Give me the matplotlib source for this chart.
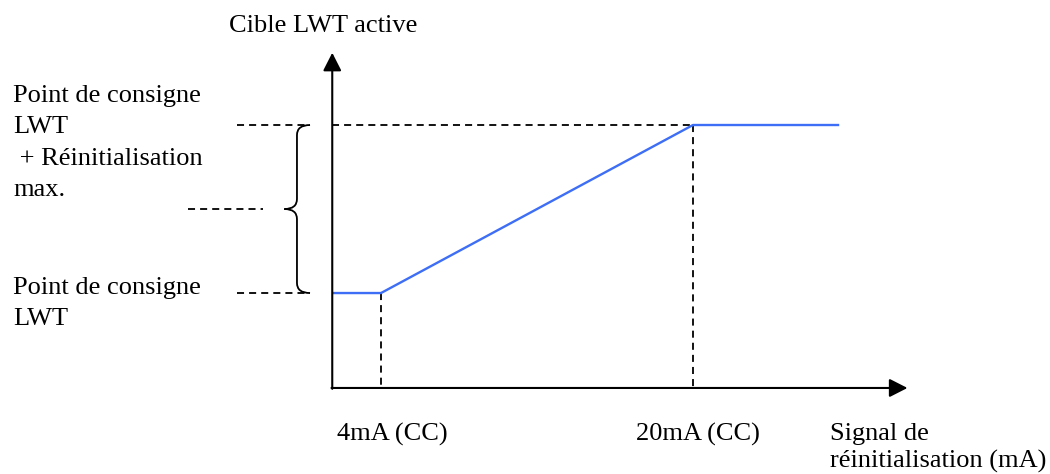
import matplotlib.pyplot as plt
from matplotlib.path import Path
from matplotlib.patches import PathPatch

plt.rcParams["font.family"] = ["Liberation Serif", "DejaVu Serif"]

# schematic: target LWT vs reset signal (mA)
signal_ma = [1.5, 4, 20, 27.5]
lwt_target = [0, 0, 1, 1]  # 0 = LWT setpoint, 1 = setpoint + max reset
ticks_ma = [4, 20]
tick_labels = ["4mA (CC)", "20mA (CC)"]
y_title = "Cible LWT active"
x_title = "Signal de\nréinitialisation (mA)"
lbl_high = "Point de consigne\nLWT\n + Réinitialisation\nmax."
lbl_low = "Point de consigne\nLWT"

x0, x_end = 1.5, 31.0      # axis origin / arrow tip (mA)
y0, y_end = -0.565, 1.43   # axis origin / arrow tip

fig = plt.figure(figsize=(10.5, 4.74), dpi=100)
ax = fig.add_axes([0, 0, 1, 1])
ax.axis("off")
ax.set_xlim(-15.54, 38.31)
ax.set_ylim(-1.077, 1.744)

fs = 19
dash = dict(color="black", lw=1.3, linestyle=(0, (3.9, 2.8)))

# axes with arrows
arr = dict(arrowstyle="-|>,head_length=0.55,head_width=0.28", color="black",
           lw=1.5, shrinkA=0, shrinkB=0, mutation_scale=20)
ax.annotate("", xy=(x_end, y0), xytext=(x0 - 0.04, y0), arrowprops=arr)
ax.annotate("", xy=(x0, y_end), xytext=(x0, y0 - 0.005), arrowprops=arr)

# guides
lo, hi = min(lwt_target), max(lwt_target)
ax.plot([x0, ticks_ma[1]], [hi, hi], **dash)
ax.plot([ticks_ma[0], ticks_ma[0]], [lo, y0], **dash)
ax.plot([ticks_ma[1], ticks_ma[1]], [hi, y0], **dash)
ax.plot([-3.39, 0.36], [hi, hi], **dash)
ax.plot([-3.39, 0.36], [lo, lo], **dash)
ax.plot([-5.9, -2.05], [(lo + hi) / 2, (lo + hi) / 2], **dash)

# curly brace
xe, xm, xt = 0.36, -0.31, -0.95
mid = (lo + hi) / 2
verts = [
    (xe, hi), (xm, hi), (xm, hi - 0.06),
    (xm, mid + 0.06), (xm, mid), (xt, mid),
    (xm, mid), (xm, mid - 0.06),
    (xm, lo + 0.06), (xm, lo), (xe, lo),
]
codes = [Path.MOVETO, Path.CURVE3, Path.CURVE3,
         Path.LINETO, Path.CURVE3, Path.CURVE3,
         Path.CURVE3, Path.CURVE3,
         Path.LINETO, Path.CURVE3, Path.CURVE3]
ax.add_patch(PathPatch(Path(verts, codes), fill=False, lw=1.3, color="black"))

# data line
ax.plot(signal_ma, lwt_target, color="#3d6ef5", lw=1.7, solid_capstyle="butt")

# texts (multi-line baselines refer to the last line)
ax.text(-3.8, 1.554, y_title, fontsize=fs, va="baseline", ha="left")
ax.text(-14.87, 0.578, lbl_high, fontsize=fs, va="baseline", ha="left", linespacing=1.55)
ax.text(-14.87, -0.19, lbl_low, fontsize=fs, va="baseline", ha="left", linespacing=1.55)
for xm_, lab, dx in zip(ticks_ma, tick_labels, [-2.26, -2.92]):
    ax.text(xm_ + dx, -0.88, lab, fontsize=fs, va="baseline", ha="left")
ax.text(27.03, -1.041, x_title, fontsize=fs, va="baseline", ha="left", linespacing=1.3)

plt.savefig("out.png", dpi=100)
